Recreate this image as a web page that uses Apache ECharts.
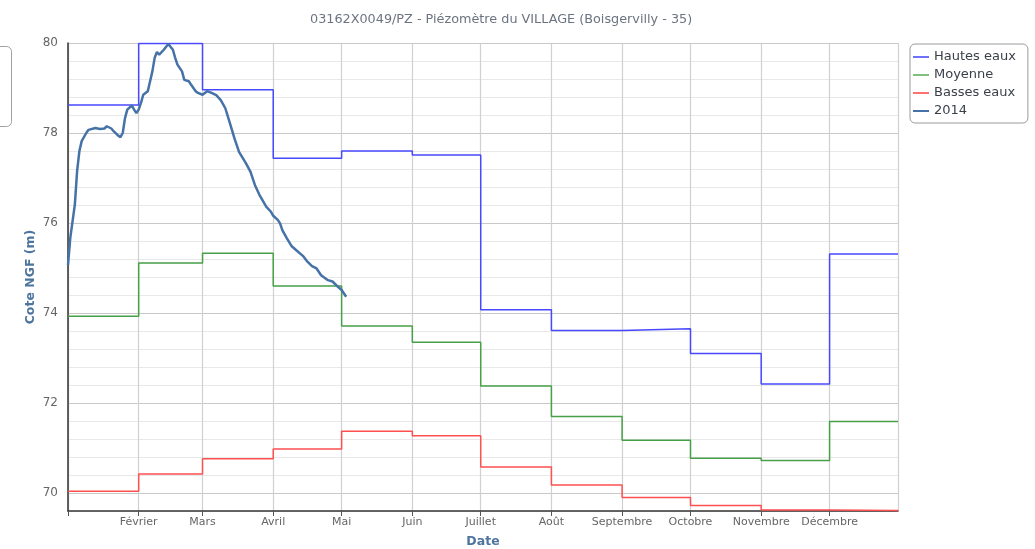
<!DOCTYPE html>
<html>
<head>
<meta charset="utf-8">
<script src="https://cdn.jsdelivr.net/npm/echarts@6/dist/echarts.min.js"></script>
<style>html,body{margin:0;padding:0;background:#fff}#main{width:1035px;height:549px}</style>
</head>
<body>
<div id="main"></div>
<script>
// mois (début de chaque palier)
var monthStarts = ['2014-01-01','2014-02-01','2014-03-01','2014-04-01','2014-05-01','2014-06-01',
  '2014-07-01','2014-08-01','2014-09-01','2014-10-01','2014-11-01','2014-12-01'];
var monthNames = ['', 'Février', 'Mars', 'Avril', 'Mai', 'Juin', 'Juillet', 'Août',
  'Septembre', 'Octobre', 'Novembre', 'Décembre'];

var hautesEaux = [78.62, 79.99, 78.96, 77.44, 77.6, 77.51, 74.07, 73.61, 73.65, 73.1, 72.42, 75.31];
var moyenne    = [73.93, 75.11, 75.33, 74.6, 73.71, 73.35, 72.38, 71.7, 71.17, 70.77, 70.72, 71.59];
var bassesEaux = [70.04, 70.42, 70.76, 70.98, 71.37, 71.27, 70.58, 70.18, 69.9, 69.72, 69.62, 69.61];

var dates2014 = ['2014-01-01','2014-01-02','2014-01-04','2014-01-05','2014-01-06','2014-01-07','2014-01-09',
  '2014-01-10','2014-01-13','2014-01-15','2014-01-17','2014-01-18','2014-01-20','2014-01-21','2014-01-23',
  '2014-01-24','2014-01-25','2014-01-26','2014-01-27','2014-01-29','2014-01-30','2014-01-31','2014-02-01',
  '2014-02-02','2014-02-03','2014-02-05','2014-02-06','2014-02-07','2014-02-08','2014-02-09','2014-02-10',
  '2014-02-12','2014-02-14','2014-02-16','2014-02-17','2014-02-18','2014-02-20','2014-02-21','2014-02-23',
  '2014-02-24','2014-02-26','2014-02-27','2014-03-01','2014-03-03','2014-03-05','2014-03-07','2014-03-09',
  '2014-03-11','2014-03-13','2014-03-15','2014-03-17','2014-03-20','2014-03-22','2014-03-24','2014-03-26',
  '2014-03-29','2014-03-31','2014-04-01','2014-04-03','2014-04-04','2014-04-05','2014-04-07','2014-04-09',
  '2014-04-11','2014-04-14','2014-04-16','2014-04-18','2014-04-20','2014-04-22','2014-04-25','2014-04-27',
  '2014-04-29','2014-05-01','2014-05-03'];
var niveaux2014 = [75.07, 75.67, 76.41, 77.16, 77.6, 77.82, 78.0,
  78.07, 78.11, 78.09, 78.1, 78.15, 78.1, 78.04, 77.94,
  77.91, 78.0, 78.33, 78.52, 78.61, 78.52, 78.44, 78.52,
  78.67, 78.85, 78.93, 79.15, 79.37, 79.67, 79.8, 79.74,
  79.85, 79.98, 79.85, 79.67, 79.52, 79.37, 79.18, 79.15,
  79.07, 78.93, 78.89, 78.85, 78.93, 78.89, 78.84, 78.73,
  78.55, 78.22, 77.88, 77.58, 77.33, 77.14, 76.84, 76.62,
  76.36, 76.25, 76.16, 76.07, 75.99, 75.84, 75.66, 75.49,
  75.4, 75.27, 75.14, 75.04, 74.99, 74.84, 74.73, 74.7,
  74.6, 74.51, 74.36];

function stepData(vals) {
  var d = monthStarts.map(function (m, i) { return [m, vals[i]]; });
  d.push(['2014-12-31', vals[vals.length - 1]]);
  return d;
}

var chart = echarts.init(document.getElementById('main'));
var font = 'DejaVu Sans';

var option = {
  animation: false,
  textStyle: { fontFamily: font },
  title: {
    text: '03162X0049/PZ - Piézomètre du VILLAGE (Boisgervilly - 35)',
    left: 305, top: 8,
    textStyle: { fontSize: 12.8, fontWeight: 'normal', color: '#6b7480', fontFamily: font }
  },
  legend: {
    orient: 'vertical',
    left: 910, top: 44,
    padding: [6, 12, 5, 3],
    itemGap: 4,
    itemWidth: 16, itemHeight: 2,
    icon: 'rect',
    borderColor: '#9a9a9a', borderWidth: 1, borderRadius: 5,
    textStyle: { fontSize: 13, color: '#3a3f48', lineHeight: 14, fontFamily: font },
    data: ['Hautes eaux', 'Moyenne', 'Basses eaux', '2014']
  },
  graphic: [{
    type: 'rect', left: -20, top: 44,
    shape: { width: 29, height: 80, r: 5 },
    style: { fill: 'none', stroke: '#a0a0a0', lineWidth: 1 }
  }],
  grid: { left: 68, right: 137, top: 43, bottom: 38, outerBoundsMode: 'none' },
  xAxis: {
    type: 'time',
    min: '2014-01-01', max: '2014-12-31',
    minInterval: 28 * 86400000, maxInterval: 31 * 86400000,
    name: 'Date', nameLocation: 'middle', nameGap: 24,
    nameTextStyle: { fontWeight: 'bold', color: '#4d759e', fontSize: 12.5 },
    axisLine: { lineStyle: { color: '#333', width: 1.5 } },
    axisTick: { show: true, length: 5, lineStyle: { color: '#555', width: 1 } },
    axisLabel: {
      showMinLabel: false, showMaxLabel: false,
      color: '#666', fontSize: 11, margin: 6,
      formatter: function (v) { return monthNames[new Date(v).getMonth()]; }
    },
    splitLine: { show: true, lineStyle: { color: '#d0d0d0', width: 1.2 } }
  },
  yAxis: {
    type: 'value',
    min: 69.6, max: 80, interval: 0.4,
    name: 'Cote NGF (m)', nameLocation: 'middle', nameGap: 31, nameRotate: 90,
    nameMoveOverlap: false,
    nameTextStyle: { fontWeight: 'bold', color: '#4d759e', fontSize: 12.5 },
    axisLine: { show: true, lineStyle: { color: '#333', width: 1.5 } },
    axisTick: { show: false },
    axisLabel: {
      color: '#666', fontSize: 12, margin: 10,
      formatter: function (v) {
        var r = Math.round(v * 10) / 10;
        return (Math.abs(r % 2) < 0.01) ? String(r) : '';
      }
    },
    splitLine: { lineStyle: { color: ['#e8e8e8', '#c8c8c8', '#e8e8e8', '#e8e8e8', '#e8e8e8'], width: 1.2 } }
  },
  series: [
    {
      name: 'Hautes eaux', type: 'line', step: 'end', symbol: 'none',
      data: stepData(hautesEaux),
      itemStyle: { color: '#7070ff' },
      lineStyle: { color: '#4848ff', width: 1.5 }
    },
    {
      name: 'Moyenne', type: 'line', step: 'end', symbol: 'none',
      data: stepData(moyenne),
      itemStyle: { color: '#80c080' },
      lineStyle: { color: '#47a047', width: 1.5 }
    },
    {
      name: 'Basses eaux', type: 'line', step: 'end', symbol: 'none',
      data: stepData(bassesEaux),
      itemStyle: { color: '#ff7070' },
      lineStyle: { color: '#ff5050', width: 1.5 }
    },
    {
      name: '2014', type: 'line', symbol: 'none',
      data: dates2014.map(function (d, i) { return [d, niveaux2014[i]]; }),
      itemStyle: { color: '#4572a7' },
      lineStyle: { color: '#4572a7', width: 2.5 }
    }
  ]
};

chart.setOption(option);
</script>
</body>
</html>
